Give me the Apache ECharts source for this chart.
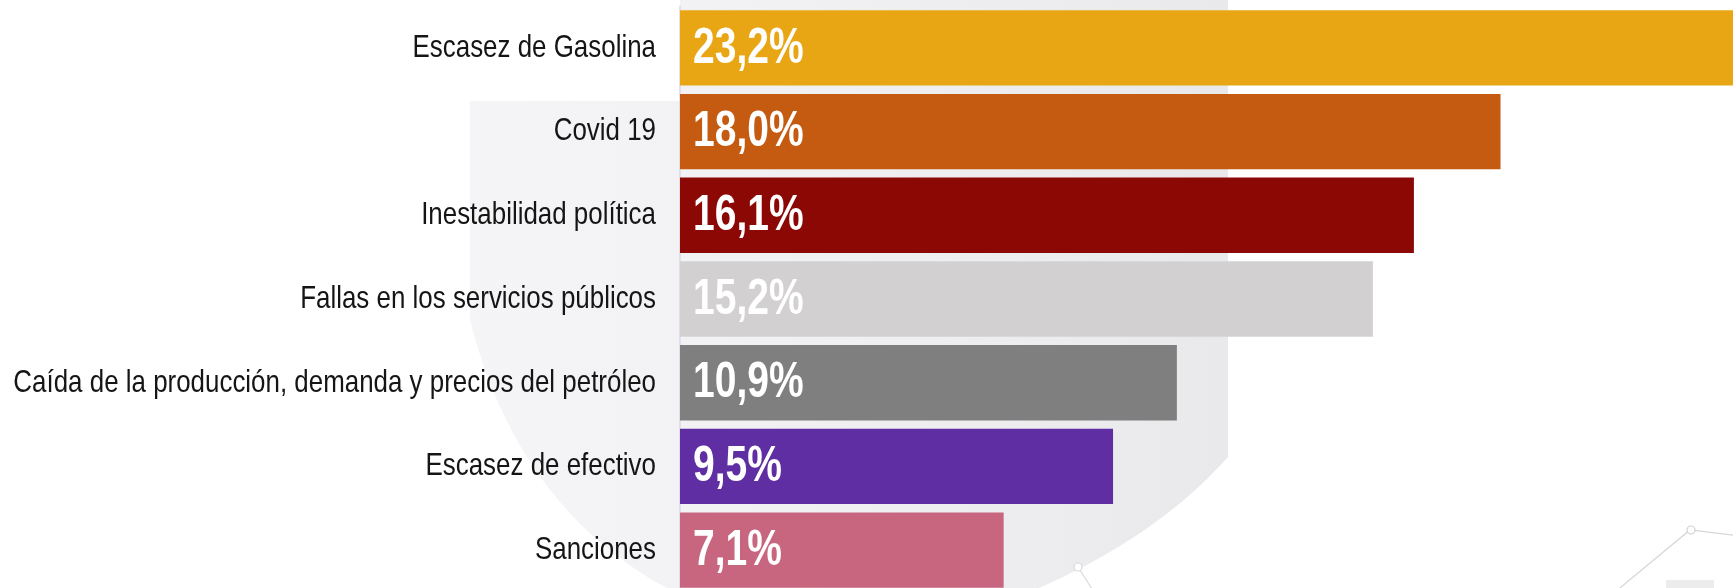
<!DOCTYPE html>
<html>
<head>
<meta charset="utf-8">
<title>Principales problemas</title>
<script src="https://cdn.jsdelivr.net/npm/echarts@6/dist/echarts.min.js"></script>
<style>
  html, body { margin: 0; padding: 0; background: #ffffff; }
  #chart { width: 1733px; height: 588px; }
</style>
</head>
<body>
<div id="chart"></div>
<script>
// Problem categories, top to bottom
const categories = [
  'Escasez de Gasolina',
  'Covid 19',
  'Inestabilidad política',
  'Fallas en los servicios públicos',
  'Caída de la producción, demanda y precios del petróleo',
  'Escasez de efectivo',
  'Sanciones'
];

// Share of respondents (%)
const values = [23.2, 18.0, 16.1, 15.2, 10.9, 9.5, 7.1];

// One fill per bar
const barColors = ['#E9A614', '#C55A11', '#8C0805', '#D3D0D1', '#7F7F7F', '#5F2EA3', '#C8657F'];

const fmtPct = v => v.toFixed(1).replace('.', ',') + '%';

const chart = echarts.init(document.getElementById('chart'), null, { renderer: 'canvas' });

chart.setOption({
  backgroundColor: '#ffffff',
  animation: false,
  grid: { left: 680, right: 0, top: 6, height: 586, containLabel: false, outerBoundsMode: 'none' },
  xAxis: {
    type: 'value',
    min: 0,
    max: 23.1,
    show: false
  },
  yAxis: {
    type: 'category',
    inverse: true,
    data: categories,
    axisTick: { show: false },
    axisLine: { show: true, lineStyle: { color: '#ddd8e8', width: 1.5 } },
    axisLabel: { show: false }
  },
  series: [{
    type: 'bar',
    barCategoryGap: '10%',
    data: values.map((v, i) => ({ value: v, itemStyle: { color: barColors[i] } })),
    label: { show: false }
  }]
});

// Sample a quadratic curve into polygon points
function quad(p0, c, p1, n) {
  const pts = [];
  for (let k = 1; k <= n; k++) {
    const t = k / n, u = 1 - t;
    pts.push([u * u * p0[0] + 2 * u * t * c[0] + t * t * p1[0],
              u * u * p0[1] + 2 * u * t * c[1] + t * t * p1[1]]);
  }
  return pts;
}

// Faint emblem outline behind the plot
const emblem = [[470, 101], [680, 101], [680, -5], [1228, -5], [1228, 457]]
  .concat(quad([1228, 457], [1150, 545], [1010, 600], 16))
  .concat([[690, 600]])
  .concat(quad([690, 600], [520, 520], [470, 320], 16));

const decorations = [
  { type: 'polygon', z: -10, silent: true,
    shape: { points: emblem },
    style: {
      fill: {
        type: 'linear', x: 0, y: 0, x2: 1, y2: 0,
        colorStops: [
          { offset: 0, color: '#f5f5f7' },
          { offset: 0.5, color: '#f0f0f2' },
          { offset: 1, color: '#e9e9ec' }
        ]
      }
    } },
  { type: 'polyline', z: -8, silent: true,
    shape: { points: [[1615, 592], [1690, 530], [1740, 536]] },
    style: { stroke: '#d6d6d8', lineWidth: 1.2, fill: null } },
  { type: 'circle', z: -7, silent: true, shape: { cx: 1691, cy: 530, r: 4 },
    style: { fill: '#ffffff', stroke: '#d0d0d2', lineWidth: 1.2 } },
  { type: 'line', z: -8, silent: true,
    shape: { x1: 1078, y1: 567, x2: 1094, y2: 592 },
    style: { stroke: '#dadadc', lineWidth: 1.2 } },
  { type: 'circle', z: -7, silent: true, shape: { cx: 1078, cy: 567, r: 4 },
    style: { fill: '#ffffff', stroke: '#d8d8da', lineWidth: 1.2 } },
  { type: 'rect', z: -8, silent: true, shape: { x: 1666, y: 580, width: 48, height: 10 },
    style: { fill: '#ececec' } }
];

// Condensed category names and value labels, placed on the axis scale
const texts = [];
categories.forEach((name, i) => {
  const [x0, y] = chart.convertToPixel({ gridIndex: 0 }, [0, i]);
  texts.push({
    type: 'text', z: 100, silent: true,
    x: x0 - 24, y: y, scaleX: 0.81,
    style: {
      text: name,
      font: '32px "Liberation Sans", Arial, sans-serif',
      fill: '#151515',
      textAlign: 'right', textVerticalAlign: 'middle'
    }
  });
  texts.push({
    type: 'text', z: 100, silent: true,
    x: x0 + 13, y: y + 1, scaleX: 0.78,
    style: {
      text: fmtPct(values[i]),
      font: 'bold 50px "Liberation Sans", Arial, sans-serif',
      fill: '#ffffff',
      textAlign: 'left', textVerticalAlign: 'middle'
    }
  });
});

chart.setOption({ graphic: decorations.concat(texts) });
</script>
</body>
</html>
